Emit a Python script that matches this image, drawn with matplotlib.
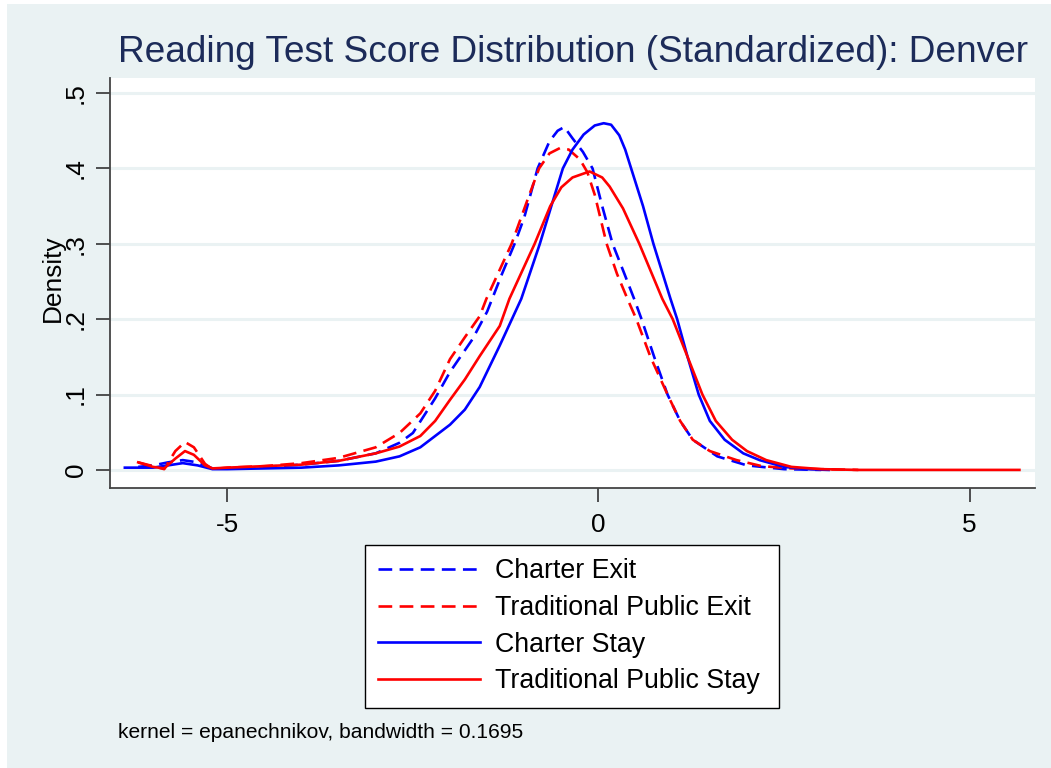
import matplotlib
matplotlib.use("Agg")
import matplotlib.pyplot as plt
from matplotlib.patches import Rectangle
from matplotlib import font_manager

# hand-read density curves (x = standardized score, y = density)
charter_exit_x = [-6.2, -6.0, -5.8, -5.6, -5.4, -5.2, -5.0, -4.5, -4.0, -3.5, -3.0, -2.68,
                  -2.5, -2.2, -2.0, -1.7, -1.5, -1.3, -1.13, -1.0, -0.82, -0.66, -0.55,
                  -0.46, -0.35, -0.21, -0.08, 0.05, 0.19, 0.35, 0.48, 0.58, 0.75, 0.93,
                  1.1, 1.27, 1.6, 2.0, 2.5, 3.0]
charter_exit_y = [0.004, 0.006, 0.010, 0.013, 0.010, 0.002, 0.002, 0.004, 0.007, 0.012, 0.022,
                  0.036, 0.049, 0.095, 0.130, 0.173, 0.210, 0.260, 0.300, 0.335, 0.400, 0.436,
                  0.450, 0.455, 0.440, 0.422, 0.400, 0.350, 0.300, 0.260, 0.227, 0.200, 0.150,
                  0.100, 0.065, 0.040, 0.018, 0.006, 0.001, 0.000]

trad_exit_x = [-6.2, -6.0, -5.85, -5.7, -5.57, -5.45, -5.3, -5.2, -5.0, -4.5, -4.0, -3.5, -3.0,
               -2.68, -2.4, -2.2, -2.0, -1.8, -1.6, -1.51, -1.17, -0.95, -0.8, -0.66, -0.52,
               -0.4, -0.25, -0.15, -0.05, 0.11, 0.25, 0.39, 0.51, 0.7, 0.93, 1.1, 1.27, 1.5,
               1.86, 2.2, 2.6, 3.0, 3.5]
trad_exit_y = [0.010, 0.005, 0.001, 0.025, 0.037, 0.030, 0.008, 0.001, 0.003, 0.005, 0.009,
               0.016, 0.030, 0.049, 0.075, 0.105, 0.147, 0.176, 0.204, 0.227, 0.300, 0.360,
               0.400, 0.420, 0.427, 0.425, 0.412, 0.395, 0.365, 0.300, 0.260, 0.227, 0.200,
               0.150, 0.100, 0.065, 0.040, 0.025, 0.013, 0.005, 0.002, 0.001, 0.000]

charter_stay_x = [-6.38, -6.0, -5.8, -5.6, -5.4, -5.2, -5.0, -4.5, -4.0, -3.5, -3.0, -2.68,
                  -2.4, -2.2, -2.0, -1.8, -1.6, -1.33, -1.04, -0.79, -0.62, -0.48, -0.35,
                  -0.2, -0.05, 0.07, 0.17, 0.28, 0.36, 0.44, 0.6, 0.74, 0.97, 1.06, 1.2,
                  1.35, 1.5, 1.7, 1.95, 2.17, 2.5, 2.8, 3.1]
charter_stay_y = [0.003, 0.003, 0.006, 0.009, 0.006, 0.001, 0.001, 0.002, 0.003, 0.006, 0.011,
                  0.018, 0.030, 0.045, 0.060, 0.080, 0.110, 0.165, 0.227, 0.300, 0.355, 0.400,
                  0.425, 0.445, 0.457, 0.460, 0.458, 0.444, 0.425, 0.400, 0.350, 0.300, 0.227,
                  0.200, 0.150, 0.100, 0.065, 0.040, 0.022, 0.013, 0.004, 0.001, 0.000]

trad_stay_x = [-6.2, -6.0, -5.85, -5.7, -5.57, -5.45, -5.3, -5.2, -5.0, -4.5, -4.0, -3.5, -3.0,
               -2.68, -2.4, -2.2, -2.0, -1.8, -1.6, -1.33, -1.2, -0.86, -0.65, -0.5, -0.35,
               -0.12, 0.05, 0.15, 0.33, 0.55, 0.86, 1.0, 1.2, 1.4, 1.58, 1.8, 2.0, 2.26, 2.6,
               3.0, 3.5, 4.5, 5.67]
trad_stay_y = [0.010, 0.004, 0.002, 0.015, 0.025, 0.020, 0.006, 0.002, 0.003, 0.005, 0.007,
               0.012, 0.022, 0.031, 0.045, 0.065, 0.093, 0.120, 0.151, 0.191, 0.227, 0.300,
               0.350, 0.375, 0.388, 0.396, 0.388, 0.376, 0.347, 0.300, 0.227, 0.200, 0.150,
               0.100, 0.065, 0.040, 0.025, 0.013, 0.004, 0.001, 0.000, 0.000, 0.000]

series_labels = ["Charter Exit", "Traditional Public Exit", "Charter Stay", "Traditional Public Stay"]
x_ticks = [-5, 0, 5]
y_ticks = [0, 0.1, 0.2, 0.3, 0.4, 0.5]
y_tick_labels = ["0", ".1", ".2", ".3", ".4", ".5"]

available = {f.name for f in font_manager.fontManager.ttflist}
if "Liberation Sans Narrow" in available:
    fam = "Liberation Sans Narrow"
    scale = 1.0
else:
    fam = "Liberation Sans"
    scale = 0.82
plt.rcParams["font.family"] = [fam, "DejaVu Sans"]

bg = "#EAF2F3"
W, H = 1051, 768
fig = plt.figure(figsize=(W / 100, H / 100), dpi=100)
fig.patch.set_facecolor("white")
fig.patches.append(Rectangle((7 / W, 0), 1 - 7 / W, 1 - 4 / H, transform=fig.transFigure,
                             facecolor=bg, edgecolor="none", zorder=-10))

ax = fig.add_axes([110 / W, 1 - 488 / H, (1035 - 110) / W, (488 - 78) / H])
ax.set_facecolor("white")

lw = 1.9
dash = (5.2, 2.8)
ax.plot(charter_exit_x, charter_exit_y, color="blue", lw=lw, dashes=dash, label=series_labels[0])
ax.plot(trad_exit_x, trad_exit_y, color="red", lw=lw, dashes=dash, label=series_labels[1])
ax.plot(charter_stay_x, charter_stay_y, color="blue", lw=lw, label=series_labels[2])
ax.plot(trad_stay_x, trad_stay_y, color="red", lw=lw, label=series_labels[3])

ax.set_xlim(-6.58, 5.88)
ax.set_ylim(-0.024, 0.52)

for yv in y_ticks:
    ax.axhline(yv, color=bg, lw=2.2, zorder=0)

ax.set_xticks(x_ticks)
ax.set_xticklabels([str(v) for v in x_ticks])
ax.set_yticks(y_ticks)
ax.set_yticklabels(y_tick_labels, rotation=90, va="center")
ax.tick_params(axis="both", length=10, width=1.2, color="#333333",
               labelsize=23 * scale, pad=6)
ax.tick_params(axis="x", pad=8)

for side in ["top", "right"]:
    ax.spines[side].set_visible(False)
for side in ["left", "bottom"]:
    ax.spines[side].set_color("#444444")
    ax.spines[side].set_linewidth(1.3)

ax.set_ylabel("Density", fontsize=23 * scale)
ax.yaxis.set_label_coords(-0.049, 0.512)

fig.text(0.5 * (110 + 1035) / W, 1 - 52 / H,
         "Reading Test Score Distribution (Standardized): Denver",
         ha="center", va="center", fontsize=32.5 * scale, color="#1C2B59")

leg = fig.legend(loc="upper left",
                 bbox_to_anchor=(365 / W, 1 - 545 / H - 0.01, (779 - 365) / W, 0.01),
                 mode="expand", fontsize=23.5 * scale, frameon=True, fancybox=False,
                 handlelength=3.8, handletextpad=0.55, labelspacing=0.4, borderpad=0.5,
                 borderaxespad=0, framealpha=1)
leg.get_frame().set_edgecolor("black")
leg.get_frame().set_facecolor("white")
leg.get_frame().set_linewidth(1.0)

fig.text(118 / W, 1 - 732 / H, "kernel = epanechnikov, bandwidth = 0.1695",
         ha="left", va="center", fontsize=18.4 * scale)

fig.savefig("out.png", dpi=100, facecolor=fig.get_facecolor())
